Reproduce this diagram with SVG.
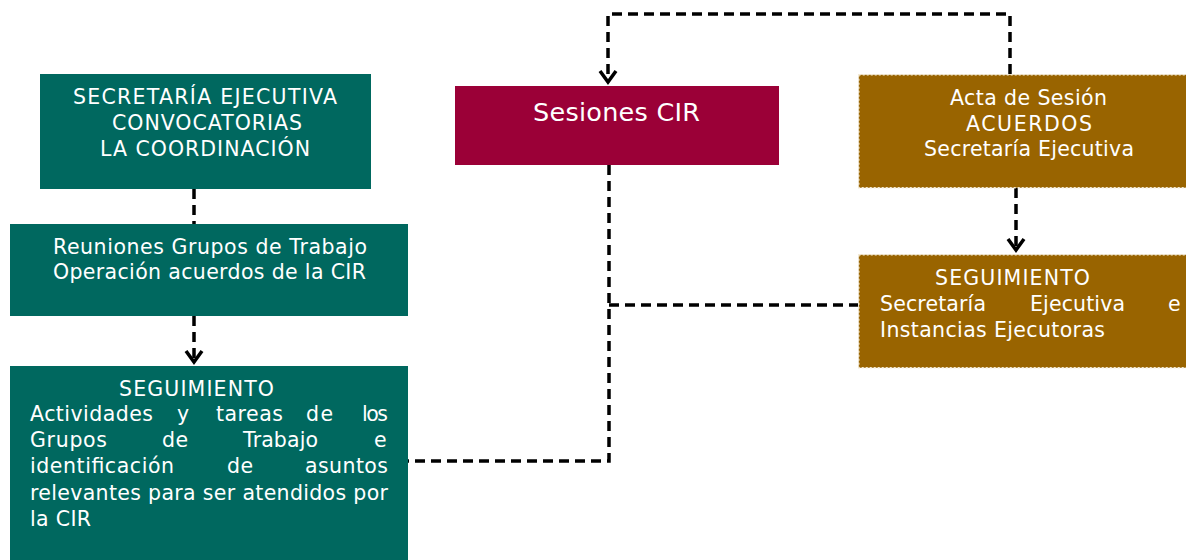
<svg xmlns="http://www.w3.org/2000/svg" width="1186" height="560" viewBox="0 0 1186 560">
<style>
.teal{fill:#00685F}
.crim{fill:#9B0037}
.gold{fill:#996400;stroke:#F3EAD6;stroke-width:1.5;stroke-dasharray:2 2}
text{font-family:"DejaVu Sans","Liberation Sans",sans-serif;font-size:20.5px;fill:#ffffff}
.conn{fill:none;stroke:#000;stroke-width:3.5;stroke-dasharray:10 6}
</style>
<defs>
<marker id="arr" markerUnits="userSpaceOnUse" markerWidth="18" markerHeight="20" refX="13" refY="10" orient="auto" viewBox="0 0 18 20">
<path d="M2,2 L13,10 L2,18" fill="none" stroke="#000" stroke-width="3.5"/>
</marker>
</defs>
<rect width="1186" height="560" fill="#ffffff"/>
<g id="connectors">
<path class="conn" d="M194,189 V224"/>
<path class="conn" d="M194,316 V362" marker-end="url(#arr)"/>
<path class="conn" d="M1010,74 V14 H608 V82" marker-end="url(#arr)"/>
<path class="conn" d="M1016,188 V250" marker-end="url(#arr)"/>
<path class="conn" d="M609,165 V461 H408"/>
<path class="conn" d="M609,305 H858"/>
</g>
<g id="node-secretaria">
<rect class="teal" x="40" y="74" width="331" height="115"/>
<text x="73" y="104" textLength="264" lengthAdjust="spacing">SECRETARÍA EJECUTIVA</text>
<text x="112" y="130" textLength="190" lengthAdjust="spacing">CONVOCATORIAS</text>
<text x="100" y="156" textLength="210" lengthAdjust="spacing">LA COORDINACIÓN</text>
</g>
<g id="node-reuniones">
<rect class="teal" x="10" y="224" width="398" height="92"/>
<text x="53" y="253.5" textLength="314" lengthAdjust="spacing">Reuniones Grupos de Trabajo</text>
<text x="53" y="279" textLength="313" lengthAdjust="spacing">Operación acuerdos de la CIR</text>
</g>
<g id="node-seguimiento-gt">
<rect class="teal" x="10" y="366" width="398" height="194"/>
<text x="119" y="395.5" textLength="155" lengthAdjust="spacing">SEGUIMIENTO</text>
<text x="30" y="421" textLength="123" lengthAdjust="spacing">Actividades</text>
<text x="177" y="421" textLength="18" lengthAdjust="spacing">y</text>
<text x="216" y="421" textLength="67" lengthAdjust="spacing">tareas</text>
<text x="306" y="421" textLength="27" lengthAdjust="spacing">de</text>
<text x="362" y="421" textLength="26" lengthAdjust="spacing">los</text>
<text x="30" y="447" textLength="77" lengthAdjust="spacing">Grupos</text>
<text x="162" y="447" textLength="26" lengthAdjust="spacing">de</text>
<text x="243" y="447" textLength="75" lengthAdjust="spacing">Trabajo</text>
<text x="374" y="447" textLength="14" lengthAdjust="spacing">e</text>
<text x="30" y="473" textLength="144" lengthAdjust="spacing">identificación</text>
<text x="227" y="473" textLength="26" lengthAdjust="spacing">de</text>
<text x="305" y="473" textLength="83" lengthAdjust="spacing">asuntos</text>
<text x="30" y="499.5" textLength="358" lengthAdjust="spacing">relevantes para ser atendidos por</text>
<text x="30" y="525.5" textLength="61" lengthAdjust="spacing">la CIR</text>
</g>
<g id="node-sesiones">
<rect class="crim" x="455" y="86" width="324" height="79"/>
<text x="533" y="120.5" textLength="167" lengthAdjust="spacing" style="font-size:25.5px">Sesiones CIR</text>
</g>
<g id="node-acta">
<rect class="gold" x="858.75" y="74.75" width="340" height="113"/>
<text x="950" y="105" textLength="157" lengthAdjust="spacing">Acta de Sesión</text>
<text x="966" y="131" textLength="126" lengthAdjust="spacing">ACUERDOS</text>
<text x="924" y="156" textLength="210" lengthAdjust="spacing">Secretaría Ejecutiva</text>
</g>
<g id="node-seguimiento-se">
<rect class="gold" x="858.75" y="254.75" width="340" height="113"/>
<text x="935" y="285" textLength="155" lengthAdjust="spacing">SEGUIMIENTO</text>
<text x="880" y="311" textLength="106" lengthAdjust="spacing">Secretaría</text>
<text x="1030" y="311" textLength="95" lengthAdjust="spacing">Ejecutiva</text>
<text x="1168" y="311" textLength="11" lengthAdjust="spacing">e</text>
<text x="880" y="337" textLength="225" lengthAdjust="spacing">Instancias Ejecutoras</text>
</g>
</svg>
